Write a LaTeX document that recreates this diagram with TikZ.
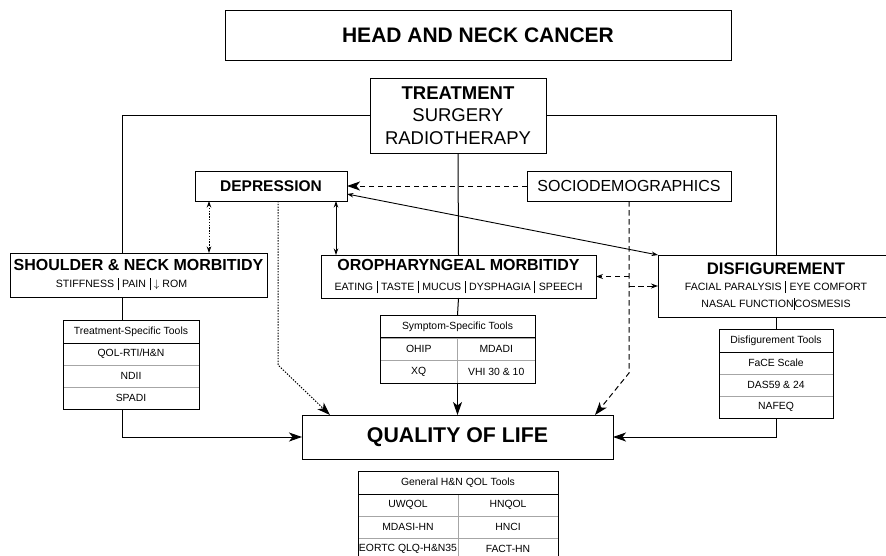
\documentclass[tikz,border=0pt]{standalone}
\usepackage{fontspec}
\setmainfont{Liberation Sans}
\usetikzlibrary{arrows.meta,fit}

\newcommand{\vbar}{\rule[-2.5pt]{0.9pt}{12pt}}
\newcommand{\vsep}{\hspace{3.5pt}\vbar\hspace{3.5pt}}

\tikzset{
  box/.style={draw, line width=1pt, align=center, inner sep=0pt, outer sep=0pt},
  toolhead/.style={inner sep=0pt, outer sep=0pt, minimum height=22.5pt, font=\fontsize{10.4}{12}\selectfont},
  toolcell/.style={draw=black!35, line width=0.7pt, inner sep=0pt, outer sep=0pt, minimum height=22pt, font=\fontsize{10.4}{12}\selectfont},
  toolframe/.style={draw, line width=1pt, inner sep=0pt, outer sep=0pt},
  link/.style={line width=1pt},
  bigtip/.style={-{Stealth[length=13pt,width=9pt,inset=3.5pt]}},
  smalltip/.style={-{Stealth[length=7pt,width=5pt]}},
  both/.style={{Stealth[length=6.5pt,width=4.5pt]}-{Stealth[length=6.5pt,width=4.5pt]}},
  dashline/.style={dash pattern=on 5.5pt off 3.5pt},
  dotline/.style={dash pattern=on 1.4pt off 1.4pt},
}

\begin{document}
\begin{tikzpicture}[x=1pt, y=-1pt]
\clip (0,0) rectangle (886,555);

%main boxes
\node[box, minimum width=506pt, minimum height=50pt, font=\bfseries\fontsize{21}{25}\selectfont] (hnc) at (478,35) {HEAD AND NECK CANCER};
\node[box, minimum width=176pt, minimum height=75pt, font=\fontsize{18.5}{22.5}\selectfont] (treat) at (458,115.5) {\textbf{TREATMENT}\\SURGERY\\RADIOTHERAPY};
\node[box, minimum width=152pt, minimum height=30pt, font=\bfseries\fontsize{15.5}{18}\selectfont] (dep) at (271,186) {DEPRESSION};
\node[box, minimum width=204pt, minimum height=30pt, font=\fontsize{16}{19}\selectfont] (socio) at (629,186) {SOCIODEMOGRAPHICS};
\node[box, minimum width=257pt, minimum height=44pt, font=\fontsize{10.6}{17}\selectfont] (snm) at (138.5,275) {{\bfseries\fontsize{16}{17}\selectfont SHOULDER \& NECK MORBITIDY}\\STIFFNESS\vsep PAIN\vsep $\downarrow$ ROM\hspace*{34pt}};
\node[box, minimum width=275pt, minimum height=43pt, font=\fontsize{10.6}{20}\selectfont] (oro) at (458.5,276.5) {{\bfseries\fontsize{16}{20}\selectfont OROPHARYNGEAL MORBITIDY}\\EATING\vsep TASTE\vsep MUCUS\vsep DYSPHAGIA\vsep SPEECH};
\node[box, minimum width=236pt, minimum height=62pt, font=\fontsize{10.6}{16.5}\selectfont] (dis) at (776,286) {{\bfseries\fontsize{16.7}{17}\selectfont DISFIGUREMENT}\\FACIAL PARALYSIS\vsep EYE COMFORT\\NASAL FUNCTION\vbar COSMESIS};
\node[box, minimum width=311pt, minimum height=44pt, font=\bfseries\fontsize{21.3}{25}\selectfont] (qol) at (457.5,437) {QUALITY OF LIFE};

%treatment-specific tools
\node[toolhead, minimum width=136pt] (tsH) at (131,332) {Treatment-Specific Tools};
\foreach \t [count=\i] in {QOL-RTI/H\&N, NDII, SPADI}
  \node[toolcell, minimum width=136pt] (ts\i) at (131,{332+22*\i}) {\t};
\node[toolframe, fit=(tsH)(ts3)] (tsTab) {};
\draw[link] (tsH.south west) -- (tsH.south east);

%symptom-specific tools
\node[toolhead, minimum width=155pt] (ssH) at (457.5,326.5) {Symptom-Specific Tools};
\foreach \a/\b [count=\i] in {OHIP/MDADI, XQ/VHI 30 \& 10} {
  \node[toolcell, minimum width=77.5pt, minimum height=22.5pt] (ssL\i) at (418.75,{326.5+22.75*\i}) {\a};
  \node[toolcell, minimum width=77.5pt, minimum height=22.5pt] (ssR\i) at (496.25,{326.5+22.75*\i}) {\b};
}
\node[toolframe, fit=(ssH)(ssR2)(ssL2)] (ssTab) {};
\draw[link] (ssH.south west) -- (ssH.south east);

%disfigurement tools
\node[toolhead, minimum width=114pt, minimum height=23pt] (dtH) at (776,340.5) {Disfigurement Tools};
\foreach \t [count=\i] in {FaCE Scale, DAS59 \& 24, NAFEQ}
  \node[toolcell, minimum width=114pt] (dt\i) at (776,{341+22*\i}) {\t};
\node[toolframe, fit=(dtH)(dt3)] (dtTab) {};
\draw[link] (dtH.south west) -- (dtH.south east);

%general QOL tools
\node[toolhead, minimum width=200pt, minimum height=23pt] (qtH) at (458,482.5) {General H\&N QOL Tools};
\foreach \a/\b [count=\i] in {UWQOL/HNQOL, MDASI-HN/HNCI, EORTC QLQ-H\&N35/FACT-HN} {
  \node[toolcell, minimum width=100pt] (qtL\i) at (408,{483+22*\i}) {\a};
  \node[toolcell, minimum width=100pt] (qtR\i) at (508,{483+22*\i}) {\b};
}
\node[toolframe, fit=(qtH)(qtL3)(qtR3)] (qtTab) {};
\draw[link] (qtH.south west) -- (qtH.south east);

%treatment lines
\coordinate (lcol) at (122,0);
\draw[link] (treat.west) -| (lcol |- snm.north);
\draw[link] (treat.east) -| (dis.north);
\draw[link] (treat.south) -- (oro.north);
\draw[link] (lcol |- snm.south) -- (lcol |- tsTab.north);
\draw[link] (oro.south) -- (ssTab.north);
\draw[link] (dis.south) -- (dtTab.north);

%into quality of life
\draw[link, bigtip] (lcol |- tsTab.south) |- (qol.west);
\draw[link, bigtip] (ssTab.south) -- (qol.north);
\draw[link, bigtip] (dtTab.south) |- (qol.east);

%depression
\coordinate (d1) at (209,0);
\coordinate (d2) at (278,0);
\coordinate (d3) at (336,0);
\draw[line width=0.9pt, dotline, both] (d1 |- dep.south) -- (d1 |- snm.north);
\draw[line width=1pt, dotline, bigtip] (d2 |- dep.south) -- (278,365) -- ([xshift=28pt]qol.north west);
\draw[line width=0.9pt, both] (d3 |- dep.south) -- (d3 |- oro.north);
\draw[line width=0.9pt, both] ([yshift=-8pt]dep.east) -- (dis.north west);

%sociodemographics
\draw[link, dashline, bigtip] (socio.west) -- (dep.east);
\draw[link, dashline, bigtip] (socio.south) -- (629,373) -- ([xshift=-18pt]qol.north east);
\draw[link, dashline, smalltip] (socio.south |- oro.east) -- (oro.east);
\draw[link, dashline, smalltip] (socio.south |- dis.west) -- (dis.west);
\end{tikzpicture}
\end{document}
